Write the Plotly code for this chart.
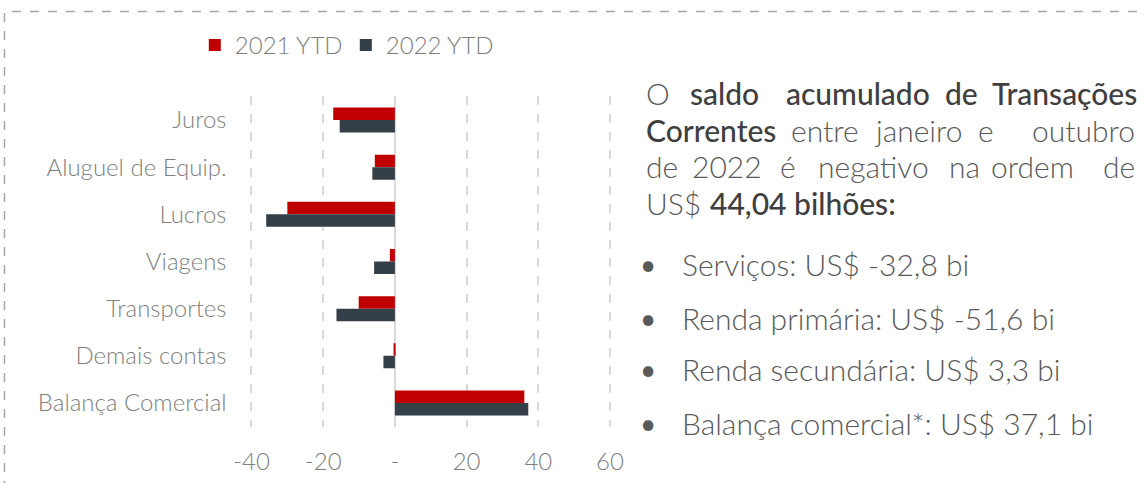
import plotly.graph_objects as go

# ---------------- data ----------------
categories = ["Juros", "Aluguel de Equip.", "Lucros", "Viagens",
              "Transportes", "Demais contas", "Balança Comercial"]
values_2021 = [-17.2, -5.6, -30.0, -1.4, -10.1, -0.3, 36.1]
values_2022 = [-15.4, -6.3, -35.9, -5.8, -16.3, -3.2, 37.2]
series_names = ["2021 YTD", "2022 YTD"]
x_tick_vals = [-40, -20, 0, 20, 40, 60]
x_tick_text = ["-40", "-20", "-", "20", "40", "60"]

bullets = ["Serviços: US$ -32,8 bi",
           "Renda primária: US$ -51,6 bi",
           "Renda secundária: US$ 3,3 bi",
           "Balança comercial*: US$ 37,1 bi"]

# ---------------- styling / layout ----------------
W, H = 1146, 483
FONT = "Lato"
RED = "#C00000"
DARK = "#343F48"
LABEL_GRAY = "#7F7F7F"
TEXT_GRAY = "#595959"
BOLD_GRAY = "#3F3F3F"
SHIFT = {"left": 0, "center": 4, "right": 9}


def px(x):
    return x / W


def py(y):
    return 1 - y / H


fig = go.Figure()
fig.add_trace(go.Bar(y=categories, x=values_2021, name=series_names[0],
                     orientation="h", marker=dict(color=RED, line=dict(width=0))))
fig.add_trace(go.Bar(y=categories, x=values_2022, name=series_names[1],
                     orientation="h", marker=dict(color=DARK, line=dict(width=0))))

annotations = []

# paragraph: words placed to emulate justified text
# (text, anchor, x, bold)
para_lines = [
    (93, [("O", "left", 648, False), ("saldo", "center", 725, True),
          ("acumulado", "center", 859.5, True), ("de", "center", 963.5, True),
          ("Transações", "right", 1137, True)]),
    (130, [("Correntes", "left", 648, True), ("entre", "center", 826, False),
           ("janeiro", "center", 920.5, False), ("e", "center", 988.5, False),
           ("outubro", "right", 1135, False)]),
    (166, [("de", "left", 648, False), ("2022", "center", 727, False),
           ("é", "center", 789, False), ("negativo", "center", 875, False),
           ("na", "center", 966, False), ("ordem", "center", 1035, False),
           ("de", "right", 1135, False)]),
    (203, [("US$", "left", 648, False), ("44,04 bilhões:", "left", 712, True)]),
]
for yc, words in para_lines:
    for text, anchor, x, bold in words:
        annotations.append(dict(
            text=text, x=px(x), y=py(yc), xref="paper", yref="paper",
            xanchor=anchor, yanchor="middle", showarrow=False,
            xshift=SHIFT[anchor],
            font=dict(family=FONT, size=30,
                      color=BOLD_GRAY if bold else TEXT_GRAY,
                      weight=500 if bold else 300)))

bullet_y = [264, 318, 369, 423]
for text, yc in zip(bullets, bullet_y):
    annotations.append(dict(text="•", x=px(652), y=py(yc), xref="paper", yref="paper",
                            xanchor="center", yanchor="middle", showarrow=False,
                            font=dict(family=FONT, size=28, color=TEXT_GRAY)))
    annotations.append(dict(text=text, x=px(684), y=py(yc), xref="paper", yref="paper",
                            xanchor="left", yanchor="middle", showarrow=False,
                            font=dict(family=FONT, size=30, color=TEXT_GRAY, weight=300)))

fig.update_layout(
    width=W, height=H,
    margin=dict(l=0, r=0, t=0, b=0),
    paper_bgcolor="white", plot_bgcolor="white",
    barmode="group", bargap=0.47, bargroupgap=0,
    font=dict(family=FONT, color=LABEL_GRAY, size=19),
    showlegend=True,
    legend=dict(orientation="h", x=px(196), y=py(23), xanchor="left", yanchor="top",
                font=dict(family=FONT, size=24, color=LABEL_GRAY, weight=300),
                bgcolor="rgba(0,0,0,0)", traceorder="normal",
                entrywidth=106, entrywidthmode="pixels"),
    xaxis=dict(domain=[px(235), px(621)], range=[-45, 62],
               tickvals=x_tick_vals, ticktext=x_tick_text,
               showgrid=True, gridcolor="#D9D9D9", griddash="dash", gridwidth=1.5,
               zeroline=True, zerolinecolor="#D9D9D9", zerolinewidth=1.5,
               showline=False, ticks="", ticklabelstandoff=18,
               tickfont=dict(family=FONT, size=24, color=LABEL_GRAY, weight=300),
               fixedrange=True),
    yaxis=dict(domain=[py(426.6), py(96.4)],
               categoryorder="array", categoryarray=categories,
               autorange="reversed", showgrid=False, zeroline=False,
               showline=False, ticks="", ticklabelstandoff=6,
               tickfont=dict(family=FONT, size=24, color=LABEL_GRAY, weight=300),
               fixedrange=True),
    annotations=annotations,
    shapes=[dict(type="rect", xref="paper", yref="paper",
                 x0=px(4.5), x1=px(W + 10), y0=py(H + 10), y1=py(11.5),
                 line=dict(color="#A6A6A6", width=1.5, dash="dash"),
                 fillcolor="rgba(0,0,0,0)", layer="below")],
)

fig.write_html("out.html", config={"displayModeBar": False},
               post_script="document.body.style.margin='0';")
